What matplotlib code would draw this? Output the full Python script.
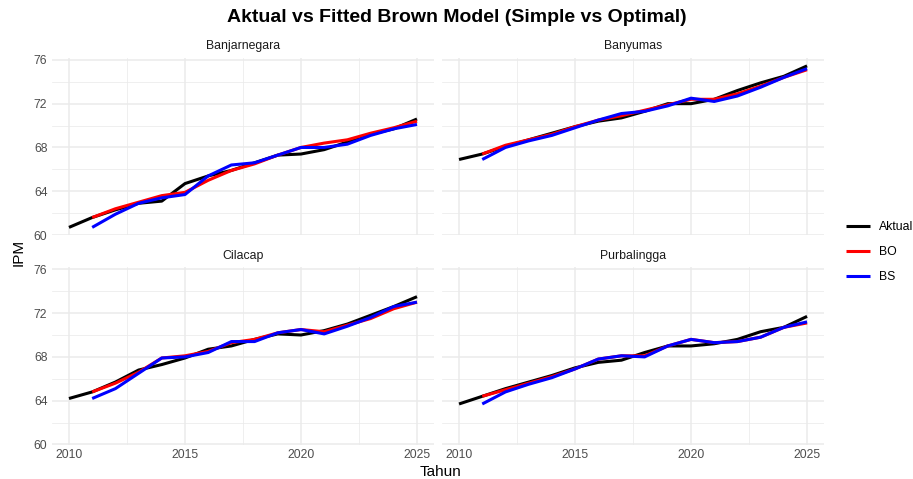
import matplotlib

matplotlib.use("Agg")
import matplotlib.pyplot as plt
from matplotlib.ticker import MultipleLocator

plt.rcParams["font.family"] = ["Liberation Sans", "DejaVu Sans"]

# ── data
years_akt = list(range(2010, 2026))
years_fit = list(range(2011, 2026))

regions = ["Banjarnegara", "Banyumas", "Cilacap", "Purbalingga"]

banjarnegara_aktual = [60.7, 61.6, 62.3, 62.9, 63.1, 64.7, 65.4, 65.9, 66.6, 67.3,
                       67.4, 67.8, 68.5, 69.2, 69.7, 70.6]
banjarnegara_bo = [61.6, 62.4, 63.0, 63.6, 63.9, 65.0, 65.9, 66.5, 67.3, 68.0,
                   68.4, 68.7, 69.3, 69.8, 70.4]
banjarnegara_bs = [60.7, 61.9, 62.9, 63.4, 63.7, 65.4, 66.4, 66.6, 67.3, 68.0,
                   68.0, 68.3, 69.1, 69.7, 70.1]

banyumas_aktual = [66.9, 67.4, 68.1, 68.7, 69.3, 69.9, 70.4, 70.7, 71.3, 72.0,
                   72.0, 72.4, 73.2, 73.9, 74.5, 75.45]
banyumas_bo = [67.4, 68.2, 68.7, 69.2, 69.9, 70.5, 70.9, 71.4, 71.9, 72.4,
               72.4, 72.9, 73.6, 74.4, 75.1]
banyumas_bs = [66.9, 68.0, 68.6, 69.1, 69.8, 70.5, 71.1, 71.3, 71.8, 72.5,
               72.2, 72.7, 73.5, 74.4, 75.2]

cilacap_aktual = [64.2, 64.8, 65.7, 66.8, 67.3, 67.9, 68.7, 69.0, 69.6, 70.1,
                  70.0, 70.4, 71.0, 71.8, 72.6, 73.5]
cilacap_bo = [64.8, 65.6, 66.6, 67.9, 68.1, 68.5, 69.3, 69.6, 70.2, 70.5,
              70.3, 70.9, 71.5, 72.4, 73.0]
cilacap_bs = [64.2, 65.1, 66.5, 67.9, 68.0, 68.4, 69.4, 69.4, 70.2, 70.5,
              70.1, 70.8, 71.6, 72.6, 73.0]

purbalingga_aktual = [63.7, 64.4, 65.1, 65.7, 66.3, 67.0, 67.5, 67.7, 68.4, 69.0,
                      69.0, 69.2, 69.6, 70.3, 70.7, 71.7]
purbalingga_bo = [64.4, 65.0, 65.6, 66.2, 66.9, 67.8, 68.1, 68.1, 69.0, 69.6,
                  69.3, 69.4, 69.8, 70.7, 71.1]
purbalingga_bs = [63.7, 64.8, 65.5, 66.1, 66.9, 67.8, 68.1, 68.0, 69.0, 69.6,
                  69.3, 69.4, 69.8, 70.7, 71.2]

aktual = [banjarnegara_aktual, banyumas_aktual, cilacap_aktual, purbalingga_aktual]
fit_bo = [banjarnegara_bo, banyumas_bo, cilacap_bo, purbalingga_bo]
fit_bs = [banjarnegara_bs, banyumas_bs, cilacap_bs, purbalingga_bs]

SERIES_COLOR = {"Aktual": "black", "BO": "#FF0000", "BS": "#0000FF"}
GRID_C = "#EBEBEB"
TEXT_C = "#4D4D4D"

# ggplot-like 5% expansion of the shared data range
all_vals = [v for grp in (aktual, fit_bo, fit_bs) for s in grp for v in s]
y_lo, y_hi = min(all_vals), max(all_vals)
y_pad = 0.05 * (y_hi - y_lo)

fig, axes = plt.subplots(2, 2, figsize=(9.13, 4.79), dpi=100, sharex=True, sharey=True)
fig.subplots_adjust(left=0.0565, right=0.903, top=0.8793, bottom=0.0712,
                    wspace=0.019, hspace=0.179)

for ax, name, ya, ybo, ybs in zip(axes.flat, regions, aktual, fit_bo, fit_bs):
    ax.plot(years_akt, ya, color=SERIES_COLOR["Aktual"], lw=2.2, label="Aktual",
            solid_capstyle="butt")
    ax.plot(years_fit, ybo, color=SERIES_COLOR["BO"], lw=2.2, label="BO",
            solid_capstyle="butt")
    ax.plot(years_fit, ybs, color=SERIES_COLOR["BS"], lw=2.2, label="BS",
            solid_capstyle="butt")
    ax.set_title(name, fontsize=8.8, color="#1A1A1A", pad=6)
    ax.set_xlim(2009.25, 2025.75)
    ax.set_ylim(y_lo - y_pad, y_hi + y_pad)
    ax.set_yticks([60, 64, 68, 72, 76])
    ax.xaxis.set_major_locator(MultipleLocator(5))
    ax.xaxis.set_minor_locator(MultipleLocator(2.5))
    ax.yaxis.set_minor_locator(MultipleLocator(2))
    ax.grid(True, which="major", color=GRID_C, lw=1.1)
    ax.grid(True, which="minor", color=GRID_C, lw=0.55)
    ax.set_axisbelow(True)
    for s in ax.spines.values():
        s.set_visible(False)
    ax.tick_params(which="both", length=0, labelsize=8.8, labelcolor=TEXT_C, pad=3)

fig.suptitle("Aktual vs Fitted Brown Model (Simple vs Optimal)", fontsize=14,
             fontweight="bold", y=0.982)
fig.text(0.482, 0.0, "Tahun", ha="center", va="bottom", fontsize=11)
fig.text(0.02, 0.474, "IPM", ha="center", va="center", rotation=90, fontsize=11)

handles, labels = axes[0, 0].get_legend_handles_labels()
fig.legend(handles, labels, loc="center left", bbox_to_anchor=(0.915, 0.474),
           frameon=False, fontsize=8.8, handlelength=1.9, labelspacing=1.05,
           handletextpad=0.8)

fig.savefig("out.png", dpi=100)
plt.close(fig)
